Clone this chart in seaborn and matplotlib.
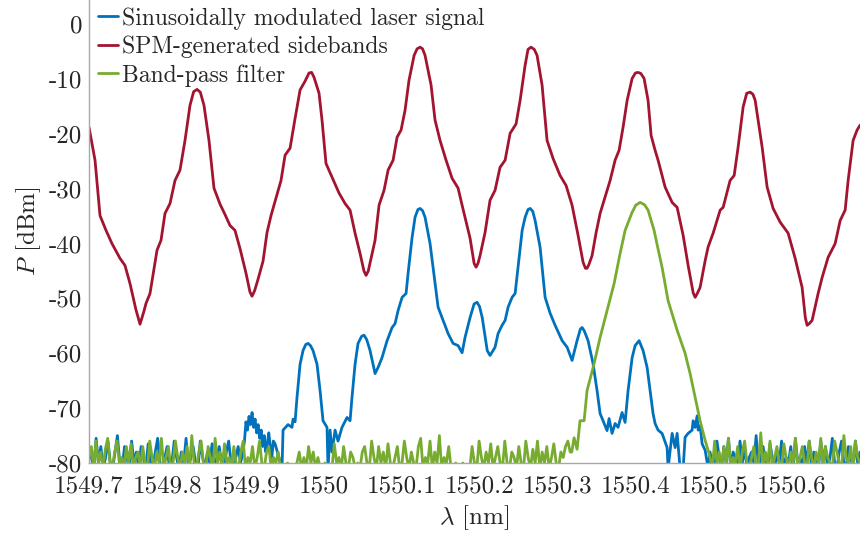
import numpy as np
import pandas as pd
import matplotlib
matplotlib.use("Agg")
import matplotlib.pyplot as plt
from matplotlib import ticker
import seaborn as sns

# ---------------- data ----------------
series_names = ["Sinusoidally modulated laser signal",
                "SPM-generated sidebands",
                "Band-pass filter"]
series_colors = ["#0072BD", "#A2142F", "#77AC30"]

# SPM-generated sidebands (red)
red_lambda = [1549.7000, 1549.7077, 1549.7141, 1549.7218, 1549.7294, 1549.7397, 1549.7461,
              1549.7525, 1549.7600, 1549.7653, 1549.7700, 1549.7730, 1549.7781, 1549.7871,
              1549.7922, 1549.7973, 1549.8037, 1549.8101, 1549.8165, 1549.8229, 1549.8293,
              1549.8340, 1549.8383, 1549.8425, 1549.8472, 1549.8536, 1549.8600, 1549.8677,
              1549.8741, 1549.8805, 1549.8869, 1549.8933, 1549.9010, 1549.9060, 1549.9087,
              1549.9120, 1549.9164, 1549.9228, 1549.9279, 1549.9330, 1549.9382, 1549.9458,
              1549.9510, 1549.9574, 1549.9638, 1549.9702, 1549.9766, 1549.9817, 1549.9850,
              1549.9881, 1549.9945, 1549.9983, 1550.0034, 1550.0111, 1550.0201, 1550.0278,
              1550.0342, 1550.0406, 1550.0470, 1550.0520, 1550.0547, 1550.0575, 1550.0611,
              1550.0662, 1550.0713, 1550.0777, 1550.0829, 1550.0893, 1550.0944, 1550.0995,
              1550.1046, 1550.1097, 1550.1162, 1550.1200, 1550.1238, 1550.1270, 1550.1302,
              1550.1379, 1550.1430, 1550.1494, 1550.1571, 1550.1648, 1550.1725, 1550.1776,
              1550.1878, 1550.1930, 1550.1955, 1550.1980, 1550.2006, 1550.2070, 1550.2134,
              1550.2198, 1550.2262, 1550.2327, 1550.2391, 1550.2467, 1550.2519, 1550.2583,
              1550.2620, 1550.2659, 1550.2700, 1550.2736, 1550.2800, 1550.2864, 1550.2941,
              1550.3031, 1550.3107, 1550.3184, 1550.3261, 1550.3325, 1550.3355, 1550.3376,
              1550.3400, 1550.3440, 1550.3492, 1550.3543, 1550.3594, 1550.3671, 1550.3735,
              1550.3786, 1550.3837, 1550.3889, 1550.3953, 1550.3995, 1550.4029, 1550.4065,
              1550.4106, 1550.4157, 1550.4196, 1550.4247, 1550.4285, 1550.4375, 1550.4465,
              1550.4529, 1550.4606, 1550.4670, 1550.4735, 1550.4760, 1550.4790, 1550.4823,
              1550.4888, 1550.4926, 1550.4990, 1550.5080, 1550.5118, 1550.5207, 1550.5259,
              1550.5310, 1550.5374, 1550.5420, 1550.5464, 1550.5500, 1550.5528, 1550.5617,
              1550.5681, 1550.5758, 1550.5848, 1550.5950, 1550.6040, 1550.6129, 1550.6170,
              1550.6193, 1550.6220, 1550.6257, 1550.6334, 1550.6385, 1550.6462, 1550.6552,
              1550.6616, 1550.6680, 1550.6718, 1550.6782, 1550.6833, 1550.6872]
red_power = [-18.8, -24.8, -34.9, -37.6, -40.0, -42.7, -44.0,
             -47.3, -52.0, -54.7, -52.5, -50.9, -49.1, -41.2,
             -39.4, -34.5, -32.7, -28.5, -26.6, -21.2, -14.8,
             -12.3, -11.9, -12.4, -14.8, -21.2, -29.9, -32.8,
             -34.7, -36.7, -37.6, -40.9, -45.4, -48.8, -49.6,
             -48.6, -46.5, -43.2, -38.0, -34.9, -32.3, -28.5,
             -23.9, -22.6, -17.2, -12.0, -10.4, -8.9, -8.8,
             -9.7, -12.6, -17.5, -25.4, -27.9, -30.8, -32.7,
             -33.9, -38.1, -41.8, -45.0, -45.8, -45.0, -42.7,
             -39.4, -33.0, -30.3, -26.6, -24.8, -20.6, -19.3,
             -15.7, -10.2, -5.7, -4.5, -4.2, -4.5, -5.7,
             -11.1, -17.5, -21.2, -24.8, -28.1, -29.9, -33.0,
             -39.0, -43.6, -44.3, -43.6, -42.2, -38.0, -32.1,
             -30.3, -26.1, -24.8, -19.9, -18.2, -13.9, -7.5,
             -4.6, -4.2, -4.6, -5.7, -11.1, -21.2, -24.5,
             -27.6, -29.4, -33.0, -38.5, -43.4, -44.5, -44.5,
             -43.8, -42.2, -38.0, -34.5, -32.1, -28.5, -24.8,
             -23.0, -18.8, -13.9, -9.9, -8.9, -8.8, -9.0,
             -9.9, -13.9, -20.3, -23.0, -24.8, -29.7, -32.5,
             -33.4, -38.5, -44.0, -49.0, -49.8, -49.0, -48.0,
             -43.1, -40.6, -38.1, -33.9, -33.4, -28.5, -27.6,
             -22.4, -15.1, -12.6, -12.4, -12.8, -13.9, -22.4,
             -29.7, -33.6, -36.1, -38.1, -42.7, -48.0, -53.5,
             -54.9, -54.6, -54.0, -49.1, -46.2, -42.5, -40.0,
             -35.8, -33.9, -28.5, -21.2, -19.3, -18.4]

# Sinusoidally modulated laser signal (blue)
# noise floor, left part (1549.700 .. 1549.897)
blue_noise_left_span = [1549.700, 1549.897]
blue_noise_left = [-78, -79, -81, -75.5, -80, -77, -81, -79, -76, -80, -81, -78, -75, -80,
                   -81, -77, -79, -81, -76, -80, -78, -81, -77, -79, -81, -76.5, -80, -81,
                   -78, -75.5, -80, -81, -79, -77, -81, -80, -76, -79, -81, -78, -80, -75.5,
                   -81, -79, -77, -80, -81, -76, -79, -81, -78, -80, -76.5, -81, -79, -77,
                   -80, -81, -78, -76, -80, -81, -79, -77, -80, -78]
# raised noise around 1549.90 .. 1549.936
blue_bump_span = [1549.899, 1549.936]
blue_bump = [-76, -72.5, -74, -71.5, -73, -70.8, -73.5, -72, -74.5, -73,
             -75.5, -74, -77, -75, -78, -76.5, -74.5, -77, -79, -76]
# main trace
blue_lambda = [1549.9382, 1549.9471, 1549.9484, 1549.9548, 1549.9599, 1549.9612, 1549.9638,
               1549.9663, 1549.9702, 1549.9740, 1549.9775, 1549.9804, 1549.9835, 1549.9868,
               1549.9919, 1549.9958, 1549.9996, 1550.0047, 1550.0060, 1550.0086, 1550.0111,
               1550.0150, 1550.0188, 1550.0239, 1550.0303, 1550.0342, 1550.0367, 1550.0406,
               1550.0444, 1550.0490, 1550.0521, 1550.0555, 1550.0598, 1550.0662, 1550.0700,
               1550.0751, 1550.0816, 1550.0880, 1550.0918, 1550.0957, 1550.1008, 1550.1059,
               1550.1085, 1550.1136, 1550.1174, 1550.1210, 1550.1238, 1550.1270, 1550.1302,
               1550.1366, 1550.1430, 1550.1469, 1550.1533, 1550.1597, 1550.1661, 1550.1725,
               1550.1776, 1550.1814, 1550.1878, 1550.1930, 1550.1968, 1550.2000, 1550.2034,
               1550.2098, 1550.2134, 1550.2198, 1550.2237, 1550.2288, 1550.2327, 1550.2365,
               1550.2416, 1550.2455, 1550.2493, 1550.2545, 1550.2583, 1550.2620, 1550.2647,
               1550.2680, 1550.2711, 1550.2775, 1550.2839, 1550.2903, 1550.2967, 1550.3057,
               1550.3121, 1550.3184, 1550.3248, 1550.3290, 1550.3312, 1550.3340, 1550.3389,
               1550.3453, 1550.3504, 1550.3543, 1550.3581, 1550.3632, 1550.3658, 1550.3696,
               1550.3735, 1550.3773, 1550.3824, 1550.3863, 1550.3901, 1550.3953, 1550.3991,
               1550.4042, 1550.4093, 1550.4145, 1550.4183, 1550.4221, 1550.4247, 1550.4285,
               1550.4336, 1550.4401, 1550.4413, 1550.4465, 1550.4503, 1550.4529, 1550.4567,
               1550.4606, 1550.4631, 1550.4670, 1550.4721, 1550.4734, 1550.4760, 1550.4785,
               1550.4798, 1550.4823, 1550.4849, 1550.4888, 1550.4926]
blue_power = [-76.5, -81.0, -74.0, -73.0, -73.5, -72.0, -72.5,
              -68.0, -62.0, -59.5, -58.4, -58.2, -58.6, -59.5,
              -62.0, -66.8, -72.3, -73.5, -81.0, -74.0, -78.0,
              -74.0, -76.0, -73.5, -71.7, -72.3, -68.0, -62.0,
              -58.2, -56.9, -56.7, -57.5, -59.5, -63.7, -62.6,
              -60.8, -57.7, -55.3, -54.6, -52.2, -49.8, -49.1,
              -45.4, -38.9, -35.2, -33.8, -33.6, -34.0, -35.2,
              -40.0, -47.3, -51.6, -54.0, -56.4, -58.2, -58.6,
              -59.9, -57.1, -53.5, -51.0, -50.7, -51.5, -53.5,
              -59.5, -60.4, -58.9, -56.4, -54.9, -54.0, -51.6,
              -49.8, -49.1, -44.3, -37.6, -35.2, -33.8, -33.6,
              -34.1, -35.8, -40.7, -49.8, -52.7, -54.9, -57.7,
              -58.9, -61.3, -57.7, -55.6, -55.3, -55.9, -57.7,
              -61.9, -66.8, -71.0, -72.3, -74.1, -71.9, -74.6,
              -72.8, -73.5, -70.8, -72.6, -66.8, -60.8, -58.6,
              -57.7, -59.5, -62.6, -66.8, -71.0, -72.8, -74.0,
              -74.6, -77.2, -81.0, -74.6, -77.2, -74.6, -81.0,
              -81.0, -75.3, -74.6, -74.0, -72.3, -73.5, -71.4,
              -74.0, -73.2, -76.5, -77.7, -81.0]
# noise floor, right part (1550.495 .. 1550.687)
blue_noise_right_span = [1550.495, 1550.687]
blue_noise_right = [-78, -80, -81, -76, -79, -81, -77, -80, -75.5, -81, -78, -79, -81, -76,
                    -80, -77, -81, -79, -78, -80, -75, -81, -79, -77, -80, -81, -76.5, -79,
                    -81, -78, -80, -76, -81, -79, -80, -77, -81, -75.5, -80, -79, -81, -77,
                    -80, -76, -81, -78, -79, -81, -76, -80, -77, -81, -79, -75.5, -80, -81,
                    -78, -76, -80, -81, -77, -79, -81, -76, -80, -78]

# Band-pass filter (green)
green_noise_left_span = [1549.700, 1550.316]
green_noise_left = [
    -79, -77, -81, -76, -80, -78, -81, -77.5, -75.5, -80, -81, -78, -76, -80, -79, -81, -77, -80, -76.5, -81, -79, -78, -81,
    -77, -80, -81, -76, -79, -81, -78, -80, -75.5, -81, -79, -77, -81, -80, -76, -79, -81, -78, -80, -77, -81, -75, -80,
    -81, -78, -76, -80, -81, -77, -79, -81, -75.5, -80, -78, -81, -76.5, -80, -79, -81, -77, -80, -81, -78, -76, -81, -79,
    -80, -77, -81, -79, -76, -80, -81, -78, -77, -81, -79, -80, -78, -81, -81, -81, -80, -81, -81, -81, -80, -78, -81,
    -79, -81, -77, -80, -78, -81, -79, -81, -81, -80, -81, -81, -81, -76.5, -80, -79, -81, -77, -80, -81, -78, -79, -81,
    -80, -81, -78, -77, -80, -81, -76, -79, -81, -77, -80, -78, -81, -76.5, -80, -81, -79, -77, -81, -80, -76, -79, -81,
    -78, -80, -81, -77, -75.5, -81, -79, -80, -76, -81, -78, -80, -75, -81, -79, -80, -77, -81, -81, -80, -81, -81, -80,
    -81, -81, -81, -77, -80, -81, -76, -79, -81, -78, -80, -76.5, -81, -79, -77, -80, -81, -76, -80, -81, -78, -79, -81,
    -77, -80, -81, -76, -79, -81, -77.5, -80, -76, -81, -78, -80, -77, -81, -79, -76.5, -80, -81, -78, -79, -77, -76, -78]
green_lambda = [1550.3180, 1550.3210, 1550.3248, 1550.3286, 1550.3338, 1550.3376, 1550.3466,
                1550.3543, 1550.3632, 1550.3722, 1550.3799, 1550.3863, 1550.3953, 1550.4000,
                1550.4055, 1550.4110, 1550.4157, 1550.4234, 1550.4285, 1550.4336, 1550.4413,
                1550.4529, 1550.4631, 1550.4695, 1550.4760, 1550.4823, 1550.4888, 1550.4926]
green_power = [-78.0, -75.4, -77.5, -72.3, -72.3, -66.8, -61.9,
               -57.1, -52.2, -47.3, -41.8, -37.6, -34.3, -33.0,
               -32.5, -32.9, -33.9, -37.6, -41.0, -44.3, -50.4,
               -55.8, -60.0, -63.7, -68.1, -72.3, -75.9, -77.7]
green_noise_right_span = [1550.495, 1550.687]
green_noise_right = [-79, -81, -76, -80, -78, -81, -77, -80, -75.5, -81, -79, -80, -77, -81,
                     -78, -76, -80, -81, -79, -77, -81, -80, -74.5, -81, -78, -80, -76, -81,
                     -79, -77, -80, -81, -76.5, -79, -81, -78, -80, -75.5, -81, -79, -77, -80,
                     -81, -76, -79, -81, -78, -80, -75.5, -81, -77, -79, -80, -81, -76, -78,
                     -80, -81, -75, -79, -80, -77, -81, -76, -79, -80]

x_ticks = [1549.7, 1549.8, 1549.9, 1550.0, 1550.1, 1550.2, 1550.3, 1550.4, 1550.5, 1550.6]
y_ticks = [-80, -70, -60, -50, -40, -30, -20, -10, 0]
x_limits = [1549.7, 1550.687]
y_limits = [-80, 4.4]


def sampled(span, values):
    """Place read noise samples evenly across their wavelength span."""
    return list(np.linspace(span[0], span[1], len(values))), list(values)


bx1, by1 = sampled(blue_noise_left_span, blue_noise_left)
bx2, by2 = sampled(blue_bump_span, blue_bump)
bx3, by3 = sampled(blue_noise_right_span, blue_noise_right)
gx1, gy1 = sampled(green_noise_left_span, green_noise_left)
gx3, gy3 = sampled(green_noise_right_span, green_noise_right)

blue_df = pd.DataFrame({"lam": bx1 + bx2 + blue_lambda + bx3,
                        "P": by1 + by2 + blue_power + by3})
red_df = pd.DataFrame({"lam": red_lambda, "P": red_power})
green_df = pd.DataFrame({"lam": gx1 + green_lambda + gx3,
                         "P": gy1 + green_power + gy3})

# ---------------- style ----------------
sns.set_theme(style="white")
plt.rcParams["font.family"] = ["cmr10", "DejaVu Serif"]
plt.rcParams["mathtext.fontset"] = "cm"
plt.rcParams["axes.unicode_minus"] = False
plt.rcParams["axes.formatter.use_mathtext"] = False

fig = plt.figure(figsize=(8.6, 5.35), dpi=100)
ax = fig.add_axes([89 / 860, 1 - 463 / 535, 1 - 89 / 860, 463 / 535])

lw = 2.0
for df, name, col in zip([blue_df, red_df, green_df], series_names, series_colors):
    sns.lineplot(data=df, x="lam", y="P", ax=ax, color=col, lw=lw, label=name,
                 sort=False, estimator=None, errorbar=None)

ax.set_xlim(*x_limits)
ax.set_ylim(*y_limits)
ax.set_xticks(x_ticks)
ax.set_yticks(y_ticks)
fmt = ticker.FuncFormatter(lambda v, p: f"{v:g}")
ax.xaxis.set_major_formatter(fmt)
ax.yaxis.set_major_formatter(fmt)

grey = "#a8a8a8"
for s in ["top", "right"]:
    ax.spines[s].set_visible(False)
for s in ["left", "bottom"]:
    ax.spines[s].set_color(grey)
    ax.spines[s].set_linewidth(1.0)
ax.tick_params(axis="both", direction="in", length=5, width=0.8, color=grey,
               labelsize=18, labelcolor="#262626")
ax.tick_params(axis="x", pad=9)
ax.tick_params(axis="y", pad=5)

ax.set_xlabel(r"$\lambda$ [nm]", fontsize=18, color="#262626", labelpad=4)
ax.set_ylabel(r"$P$ [dBm]", fontsize=18, color="#262626", labelpad=4)

leg = ax.legend(loc="upper left", bbox_to_anchor=(0.007, 0.992), frameon=False,
                fontsize=17, handlelength=0.85, handletextpad=0.15,
                labelspacing=0.25, borderaxespad=0.0, borderpad=0.15)
for t in leg.get_texts():
    t.set_color("#262626")

fig.savefig("out.png", dpi=100)
